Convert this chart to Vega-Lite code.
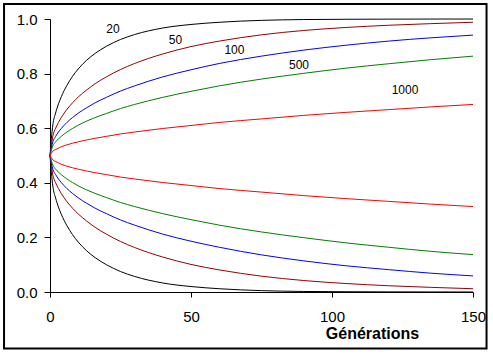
{
  "$schema": "https://vega.github.io/schema/vega-lite/v6.json",
  "width": 423,
  "height": 273,
  "autosize": {"type": "none"},
  "padding": {"left": 50, "top": 19, "right": 20, "bottom": 62},
  "background": "white",
  "config": {"view": {"stroke": null}, "font": "Liberation Sans"},
  "datasets": {
    "curves": [
      {"N":"20","t":0,"hi":0.5,"lo":0.5},{"N":"20","t":1,"hi":0.612,"lo":0.388},{"N":"20","t":2,"hi":0.656,"lo":0.344},{"N":"20","t":3,"hi":0.689,"lo":0.311},{"N":"20","t":4,"hi":0.715,"lo":0.285},{"N":"20","t":6,"hi":0.757,"lo":0.243},{"N":"20","t":8,"hi":0.790,"lo":0.210},{"N":"20","t":10,"hi":0.817,"lo":0.183},{"N":"20","t":13,"hi":0.849,"lo":0.151},{"N":"20","t":16,"hi":0.874,"lo":0.126},{"N":"20","t":20,"hi":0.900,"lo":0.100},{"N":"20","t":25,"hi":0.925,"lo":0.075},{"N":"20","t":30,"hi":0.943,"lo":0.057},{"N":"20","t":40,"hi":0.967,"lo":0.033},{"N":"20","t":50,"hi":0.980,"lo":0.020},{"N":"20","t":60,"hi":0.988,"lo":0.012},{"N":"20","t":75,"hi":0.995,"lo":0.005},{"N":"20","t":90,"hi":0.998,"lo":0.002},{"N":"20","t":105,"hi":0.999,"lo":0.001},{"N":"20","t":120,"hi":0.9995,"lo":0.0005},{"N":"20","t":135,"hi":0.9998,"lo":0.0002},{"N":"20","t":150,"hi":0.9999,"lo":0.0001},
      {"N":"50","t":0,"hi":0.5,"lo":0.5},{"N":"50","t":1,"hi":0.571,"lo":0.429},{"N":"50","t":2,"hi":0.600,"lo":0.400},{"N":"50","t":3,"hi":0.621,"lo":0.379},{"N":"50","t":4,"hi":0.639,"lo":0.361},{"N":"50","t":6,"hi":0.669,"lo":0.331},{"N":"50","t":8,"hi":0.693,"lo":0.307},{"N":"50","t":10,"hi":0.714,"lo":0.286},{"N":"50","t":13,"hi":0.740,"lo":0.260},{"N":"50","t":16,"hi":0.763,"lo":0.237},{"N":"50","t":20,"hi":0.788,"lo":0.212},{"N":"50","t":25,"hi":0.815,"lo":0.185},{"N":"50","t":30,"hi":0.837,"lo":0.163},{"N":"50","t":40,"hi":0.872,"lo":0.128},{"N":"50","t":50,"hi":0.899,"lo":0.101},{"N":"50","t":60,"hi":0.919,"lo":0.081},{"N":"50","t":75,"hi":0.942,"lo":0.058},{"N":"50","t":90,"hi":0.958,"lo":0.042},{"N":"50","t":105,"hi":0.969,"lo":0.031},{"N":"50","t":120,"hi":0.977,"lo":0.023},{"N":"50","t":135,"hi":0.983,"lo":0.017},{"N":"50","t":150,"hi":0.988,"lo":0.012},
      {"N":"100","t":0,"hi":0.5,"lo":0.5},{"N":"100","t":1,"hi":0.550,"lo":0.450},{"N":"100","t":2,"hi":0.570,"lo":0.430},{"N":"100","t":3,"hi":0.586,"lo":0.414},{"N":"100","t":4,"hi":0.599,"lo":0.401},{"N":"100","t":6,"hi":0.621,"lo":0.379},{"N":"100","t":8,"hi":0.639,"lo":0.361},{"N":"100","t":10,"hi":0.655,"lo":0.345},{"N":"100","t":13,"hi":0.675,"lo":0.325},{"N":"100","t":16,"hi":0.693,"lo":0.307},{"N":"100","t":20,"hi":0.713,"lo":0.287},{"N":"100","t":25,"hi":0.736,"lo":0.264},{"N":"100","t":30,"hi":0.755,"lo":0.245},{"N":"100","t":40,"hi":0.788,"lo":0.212},{"N":"100","t":50,"hi":0.814,"lo":0.186},{"N":"100","t":60,"hi":0.837,"lo":0.164},{"N":"100","t":75,"hi":0.864,"lo":0.136},{"N":"100","t":90,"hi":0.886,"lo":0.114},{"N":"100","t":105,"hi":0.904,"lo":0.096},{"N":"100","t":120,"hi":0.919,"lo":0.082},{"N":"100","t":135,"hi":0.931,"lo":0.069},{"N":"100","t":150,"hi":0.941,"lo":0.059},
      {"N":"500","t":0,"hi":0.5,"lo":0.5},{"N":"500","t":1,"hi":0.535,"lo":0.465},{"N":"500","t":2,"hi":0.550,"lo":0.450},{"N":"500","t":3,"hi":0.561,"lo":0.439},{"N":"500","t":4,"hi":0.570,"lo":0.430},{"N":"500","t":6,"hi":0.586,"lo":0.414},{"N":"500","t":8,"hi":0.599,"lo":0.401},{"N":"500","t":10,"hi":0.611,"lo":0.389},{"N":"500","t":13,"hi":0.626,"lo":0.374},{"N":"500","t":16,"hi":0.639,"lo":0.361},{"N":"500","t":20,"hi":0.654,"lo":0.346},{"N":"500","t":25,"hi":0.672,"lo":0.328},{"N":"500","t":30,"hi":0.687,"lo":0.313},{"N":"500","t":40,"hi":0.713,"lo":0.287},{"N":"500","t":50,"hi":0.735,"lo":0.265},{"N":"500","t":60,"hi":0.755,"lo":0.245},{"N":"500","t":75,"hi":0.780,"lo":0.220},{"N":"500","t":90,"hi":0.801,"lo":0.199},{"N":"500","t":105,"hi":0.820,"lo":0.180},{"N":"500","t":120,"hi":0.836,"lo":0.164},{"N":"500","t":135,"hi":0.851,"lo":0.149},{"N":"500","t":150,"hi":0.864,"lo":0.137},
      {"N":"1000","t":0,"hi":0.5,"lo":0.5},{"N":"1000","t":1,"hi":0.516,"lo":0.484},{"N":"1000","t":2,"hi":0.522,"lo":0.478},{"N":"1000","t":3,"hi":0.527,"lo":0.473},{"N":"1000","t":4,"hi":0.532,"lo":0.468},{"N":"1000","t":6,"hi":0.539,"lo":0.461},{"N":"1000","t":8,"hi":0.545,"lo":0.455},{"N":"1000","t":10,"hi":0.550,"lo":0.450},{"N":"1000","t":13,"hi":0.557,"lo":0.443},{"N":"1000","t":16,"hi":0.563,"lo":0.437},{"N":"1000","t":20,"hi":0.570,"lo":0.430},{"N":"1000","t":25,"hi":0.579,"lo":0.421},{"N":"1000","t":30,"hi":0.586,"lo":0.414},{"N":"1000","t":40,"hi":0.599,"lo":0.401},{"N":"1000","t":50,"hi":0.610,"lo":0.390},{"N":"1000","t":60,"hi":0.621,"lo":0.379},{"N":"1000","t":75,"hi":0.634,"lo":0.366},{"N":"1000","t":90,"hi":0.647,"lo":0.353},{"N":"1000","t":105,"hi":0.658,"lo":0.342},{"N":"1000","t":120,"hi":0.668,"lo":0.332},{"N":"1000","t":135,"hi":0.678,"lo":0.322},{"N":"1000","t":150,"hi":0.687,"lo":0.313}
    ],
    "labels": [
      {"N":"20","t":22.3,"p":0.963},
      {"N":"50","t":44.5,"p":0.923},
      {"N":"100","t":65.4,"p":0.886},
      {"N":"500","t":88.3,"p":0.833},
      {"N":"1000","t":125.9,"p":0.739}
    ]
  },
  "layer": [
    {
      "data": {"values": [{}]},
      "mark": {"type": "rect", "fill": null, "stroke": "black", "strokeWidth": 2},
      "encoding": {
        "x": {"datum": -16.3, "type": "quantitative", "scale": {"domain": [0, 150], "nice": false, "zero": false}},
        "x2": {"datum": 154.8},
        "y": {"datum": 1.055, "type": "quantitative", "scale": {"domain": [0, 1], "nice": false, "zero": false}},
        "y2": {"datum": -0.207}
      }
    },
    {
      "data": {"name": "curves"},
      "transform": [{"fold": ["hi", "lo"], "as": ["side", "p"]}],
      "mark": {"type": "line", "strokeWidth": 1, "interpolate": "monotone"},
      "encoding": {
        "x": {
          "field": "t", "type": "quantitative",
          "scale": {"domain": [0, 150], "nice": false, "zero": false},
          "axis": {
            "values": [0, 50, 100, 150], "grid": false,
            "title": "Générations", "titleFont": "Liberation Sans", "titleFontWeight": "bold", "titleFontSize": 16, "titleColor": "black",
            "titleX": 322, "titleY": 46, "titleAlign": "center", "titleBaseline": "alphabetic", "titleAnchor": null,
            "labelFont": "Liberation Sans", "labelFontSize": 15, "labelColor": "black", "labelPadding": 12, "labelFlush": false,
            "tickSize": 5, "tickColor": "black", "domainColor": "black", "tickWidth": 1, "domainWidth": 1
          }
        },
        "y": {
          "field": "p", "type": "quantitative",
          "scale": {"domain": [0, 1], "nice": false, "zero": false},
          "axis": {
            "values": [0, 0.2, 0.4, 0.6, 0.8, 1], "format": ".1f", "grid": false, "title": null,
            "labelFont": "Liberation Sans", "labelFontSize": 15, "labelColor": "black", "labelPadding": 7, "labelFlush": false,
            "tickSize": 6, "tickColor": "black", "domainColor": "black", "tickWidth": 1, "domainWidth": 1
          }
        },
        "color": {
          "field": "N", "type": "nominal",
          "scale": {"domain": ["20", "50", "100", "500", "1000"], "range": ["#000000", "#990000", "#0000ff", "#008000", "#ff0000"]},
          "legend": null
        },
        "detail": {"field": "side"}
      }
    },
    {
      "data": {"name": "labels"},
      "mark": {"type": "text", "font": "Liberation Sans", "fontSize": 12, "color": "black", "baseline": "middle", "align": "center"},
      "encoding": {
        "x": {"field": "t", "type": "quantitative"},
        "y": {"field": "p", "type": "quantitative"},
        "text": {"field": "N"}
      }
    }
  ]
}
